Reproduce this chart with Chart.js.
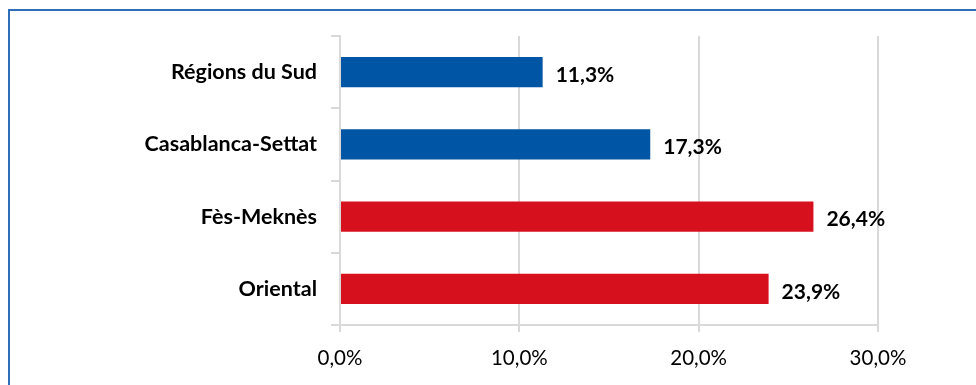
<!DOCTYPE html>
<html>
<head>
<meta charset="utf-8">
<script src="https://cdn.jsdelivr.net/npm/chart.js@4"></script>
<style>
  html, body { margin: 0; padding: 0; background: #fff; }
  .wrap { position: relative; width: 976px; height: 385px; overflow: hidden; }
  .frame { position: absolute; left: 8px; top: 9px; width: 1000px; height: 400px;
           border-left: 2px solid #2e6fb7; border-top: 2px solid #2e6fb7; }
  canvas { position: absolute; left: 0; top: 0; }
</style>
</head>
<body>
<div class="wrap">
  <div class="frame"></div>
  <canvas id="chart" width="976" height="385"></canvas>
</div>
<script>
var regions = ['Régions du Sud', 'Casablanca-Settat', 'Fès-Meknès', 'Oriental'];
var shares = [11.3, 17.3, 26.4, 23.9];
var barColors = ['#0055a4', '#0055a4', '#d7101e', '#d7101e'];
var xTicks = [0, 10, 20, 30];

function pct(v) {
    return v.toFixed(1).replace('.', ',') + '%';
}

// value labels just past the end of each bar
var barLabels = {
    id: 'barLabels',
    afterDatasetsDraw: function (chart) {
        var ctx = chart.ctx;
        var meta = chart.getDatasetMeta(0);
        ctx.save();
        ctx.font = 'bold 21px Lato';
        ctx.fillStyle = '#000';
        ctx.textAlign = 'left';
        ctx.textBaseline = 'middle';
        meta.data.forEach(function (bar, i) {
            ctx.fillText(pct(shares[i]), bar.x + 13, bar.y + 3);
        });
        ctx.restore();
    }
};

var ctx = document.getElementById('chart').getContext('2d');
var chart = new Chart(ctx, {
    type: 'bar',
    data: {
        labels: regions,
        datasets: [{
            data: shares,
            backgroundColor: barColors,
            borderWidth: 0,
            categoryPercentage: 1,
            barPercentage: 0.42
        }]
    },
    options: {
        indexAxis: 'y',
        responsive: false,
        animation: false,
        layout: { padding: { left: 10, top: 36, right: 98, bottom: 0 } },
        plugins: {
            legend: { display: false },
            tooltip: { enabled: false }
        },
        scales: {
            x: {
                min: 0,
                max: 30,
                afterBuildTicks: function (scale) {
                    scale.ticks = xTicks.map(function (v) { return { value: v }; });
                },
                afterFit: function (scale) { scale.height = 60; },
                border: { color: '#d9d9d9', width: 2 },
                grid: { color: '#d9d9d9', lineWidth: 2, tickLength: 7 },
                ticks: {
                    color: '#000',
                    font: { family: 'Lato', size: 20.5 },
                    padding: 14,
                    maxRotation: 0,
                    callback: function (v) { return pct(v); }
                }
            },
            y: {
                afterFit: function (scale) { scale.width = 330; },
                border: { color: '#d9d9d9', width: 2 },
                grid: { drawOnChartArea: false, color: '#d9d9d9', lineWidth: 2, tickLength: 9 },
                ticks: {
                    color: '#000',
                    font: { family: 'Lato', size: 21.5, weight: 'bold' },
                    padding: 14
                }
            }
        }
    },
    plugins: [barLabels]
});
</script>
</body>
</html>
